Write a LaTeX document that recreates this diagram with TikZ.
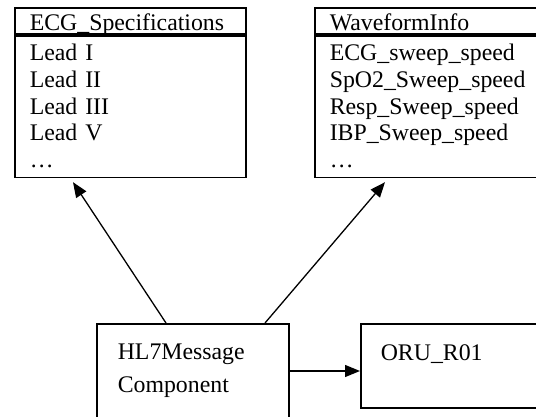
\documentclass[tikz,border=0pt]{standalone}
\usepackage{fontspec}
\setmainfont{Liberation Serif}
\usetikzlibrary{positioning,calc,arrows.meta}
\tikzset{
headbox/.style={
  draw,
  line width=1.6pt,
  anchor=north west,
  align=left,
  inner xsep=15pt,
  inner ysep=3pt,
  text height=19.3pt,
  text depth=1.2pt,
  font=\fontsize{23.8}{26.7}\selectfont
  },
listbox/.style={
  headbox,
  text height=21.8pt,
  text depth=113.7pt
  },
compbox/.style={
  draw,
  line width=1.6pt,
  anchor=north west,
  align=left,
  inner ysep=3pt,
  font=\fontsize{23.8}{33}\selectfont
  }
}

\begin{document}
\begin{tikzpicture}[x=1pt, y=-1pt, >={Triangle[length=15pt,width=12pt]}]
\useasboundingbox (0,0) rectangle (536,417);
\clip (0,0) rectangle (536,417);

\node[headbox, text width=201pt] at (14,7) (ecghead) {ECG\_Specifications};
\node[listbox, text width=201pt] at (ecghead.south west) (ecg)
{Lead I\\ Lead II\\ Lead III\\ Lead V\\ \dots};

\node[headbox, text width=220pt] at (314,7) (wavehead) {WaveformInfo};
\node[listbox, text width=220pt] at (wavehead.south west) (wave)
{ECG\_sweep\_speed\\ SpO2\_Sweep\_speed\\ Resp\_Sweep\_speed\\ IBP\_Sweep\_speed\\ \dots};

\node[compbox, inner xsep=21pt, text width=150pt,
  text height=32.3pt, text depth=100pt] at (96,323) (hl7)
{HL7Message\\ Component};
\node[compbox, inner xsep=20pt, text width=160pt,
  text height=34pt, text depth=44pt] at (360,323) (oru)
{ORU\_R01};

\begin{scope}[line width=1.3pt]
\draw[->]
  ($(hl7.north west)+(70,0)$) -- ($(ecg.south west)+(59,4)$);
\draw[->]
  ($(hl7.north west)+(169,0)$) -- ($(wave.south west)+(71,4)$);
\draw[->]
  ($(hl7.north east)+(0,48)$) coordinate (hl7out) -- (hl7out -| oru.west);
\end{scope}
\end{tikzpicture}
\end{document}
